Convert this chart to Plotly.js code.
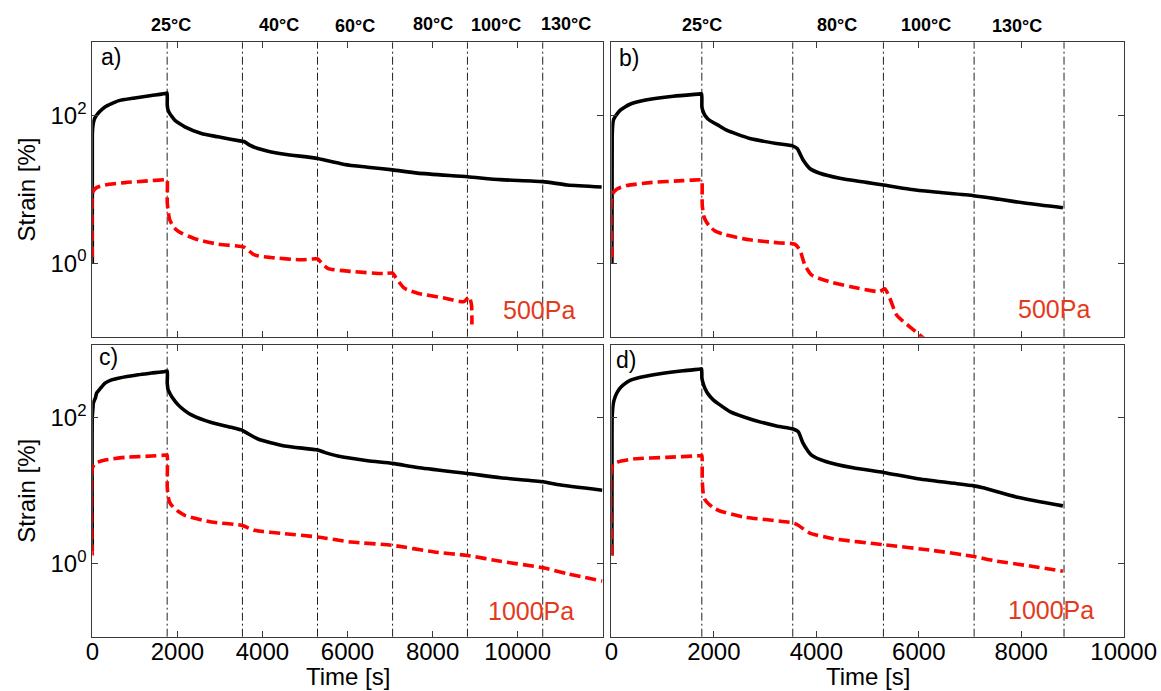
<!DOCTYPE html>
<html>
<head>
<meta charset="utf-8">
<script src="https://cdn.plot.ly/plotly-3.0.1.min.js"></script>
<style>
  html, body { margin: 0; padding: 0; background: #ffffff; }
  #chart { width: 1161px; height: 691px; }
</style>
</head>
<body>
<div id="chart"></div>
<script>
// ---- Strain [%] vs time [s] under stepped temperature (creep then recovery) ----

// Panel a) 500 Pa, six temperature steps
const timeA_black = [0, 0, 8, 23, 47, 100, 180, 297, 454, 610, 1000, 1390, 1745, 1760, 1762, 1783, 1822, 1877, 1940, 2057, 2175, 2565, 2955, 3500, 3580, 3700, 3895, 4130, 4520, 5295, 5460, 5930, 6475, 7060, 7650, 8820, 9600, 10590, 11170, 11975];
const strainA_black = [1.0, 54.7, 67.3, 79, 90.1, 102, 115.7, 132.4, 146.9, 160, 175, 189, 203, 205, 140, 119, 107.5, 96.9, 87.3, 78, 71, 57.6, 52, 45.4, 44.5, 40, 36.1, 33.2, 30.2, 26.4, 25.1, 21.9, 20.1, 18.5, 16.7, 14.9, 13.6, 12.8, 11.5, 10.8];
const timeA_red = [0, 0, 23, 100, 300, 770, 1235, 1745, 1760, 1762, 1785, 1822, 1880, 1978, 2095, 2490, 2955, 3500, 3580, 3815, 4205, 4910, 5300, 5340, 5535, 6085, 6865, 7060, 7140, 7335, 7650, 8275, 8740, 8860, 8915, 8925];
const strainA_red = [1.2, 8.4, 9.5, 10.6, 11.5, 12.4, 13.0, 13.6, 13.6, 6.8, 5.0, 3.86, 3.3, 2.82, 2.55, 2.07, 1.81, 1.68, 1.63, 1.29, 1.19, 1.11, 1.14, 1.08, 0.85, 0.77, 0.72, 0.73, 0.63, 0.457, 0.39, 0.335, 0.30, 0.35, 0.27, 0.146];

// Panel b) 500 Pa, four temperature steps
const timeB_black = [10, 15, 25, 38, 70, 116, 168, 265, 363, 558, 753, 1208, 1728, 1760, 1767, 1793, 1825, 1890, 1988, 2118, 2248, 2703, 3223, 3535, 3626, 3743, 3873, 4068, 4458, 4978, 5310, 5823, 6278, 7078, 7578, 8098, 8813];
const strainB_black = [1.0, 50, 74.8, 87.3, 97, 107.6, 119, 132.4, 144, 158, 168, 185, 199, 200, 132, 113, 102, 90, 81.2, 72.4, 64, 49.3, 42.2, 39.2, 36, 25.1, 19.3, 16.6, 14.2, 12.5, 11.5, 10.1, 9.3, 8.24, 7.35, 6.5, 5.66];
const timeB_red = [10, 10, 103, 298, 753, 1403, 1760, 1767, 1773, 1806, 1858, 1923, 2020, 2183, 2703, 3288, 3580, 3678, 3775, 3905, 4198, 4653, 5238, 5335, 5433, 5563, 5693, 5855, 6050, 6250];
const strainB_red = [1.19, 8.4, 10.1, 11.3, 12.4, 13.2, 13.6, 13.6, 6.2, 4.28, 3.59, 3.13, 2.74, 2.47, 2.07, 1.88, 1.81, 1.51, 0.95, 0.69, 0.575, 0.48, 0.41, 0.448, 0.335, 0.199, 0.162, 0.131, 0.101, 0.08];

// Panel c) 1000 Pa, six temperature steps
const timeC_black = [0, 0, 15, 23, 78, 100, 195, 300, 454, 610, 1080, 1390, 1705, 1760, 1762, 1783, 1822, 1877, 2018, 2174, 2330, 2800, 3270, 3505, 3620, 3895, 4520, 5300, 5460, 5770, 6475, 7060, 7650, 8820, 9600, 10600, 10930, 11990];
const strainC_black = [1.5, 104, 136, 159, 192, 218, 256, 300, 333, 351, 391, 412, 434, 440, 300, 243, 218, 192, 151, 126, 110, 86.3, 74.4, 68.4, 62.9, 51.4, 41.2, 36.3, 33.7, 30, 25.9, 23.8, 20.9, 17.3, 15.1, 13.3, 12.2, 10.2];
const timeC_red = [0, 0, 63, 300, 770, 1390, 1745, 1760, 1762, 1785, 1822, 1900, 2018, 2175, 2800, 3505, 3815, 4520, 5300, 6085, 7060, 8040, 8820, 9600, 10600, 11170, 11990];
const strainC_red = [1.3, 20.3, 23.8, 26.4, 28.8, 30, 31, 31, 11.3, 8.26, 6.9, 6.02, 5.25, 4.62, 3.74, 3.37, 2.88, 2.59, 2.33, 1.99, 1.79, 1.45, 1.3, 1.08, 0.88, 0.73, 0.58];

// Panel d) 1000 Pa, four temperature steps
const timeD_black = [10, 12, 15, 38, 70, 103, 168, 233, 363, 493, 948, 1403, 1741, 1760, 1767, 1793, 1825, 1890, 1988, 2118, 2313, 2768, 3223, 3548, 3646, 3743, 3905, 4198, 4718, 5310, 5953, 6603, 7078, 7253, 7903, 8813];
const strainD_black = [1.3, 60, 104, 159, 192, 218, 256, 284, 327, 351, 403, 444, 468, 470, 351, 294, 256, 212, 177, 151, 122, 93.8, 77.6, 70.6, 64.9, 44.8, 31, 25.1, 20.7, 17.9, 14.8, 12.9, 11.7, 11, 8.26, 6.22];
const timeD_red = [10, 12, 103, 428, 1078, 1728, 1760, 1767, 1773, 1793, 1825, 1890, 1988, 2118, 2573, 3548, 3646, 3873, 4328, 5310, 6278, 7078, 7448, 8228, 8813];
const strainD_red = [1.3, 21.4, 24.5, 27.3, 28.8, 30.3, 30.5, 30.5, 14, 9.2, 7.6, 6.7, 5.9, 5.3, 4.39, 3.63, 3.37, 2.64, 2.21, 1.83, 1.52, 1.26, 1.11, 0.92, 0.79];

// Temperature step boundaries [s] and labels
const stepsLeft = [1760, 3530, 5295, 7060, 8820, 10590];
const stepsRight = [1765, 3540, 5310, 7080, 8835];
const tempLabelsLeft = ['25°C', '40°C', '60°C', '80°C', '100°C', '130°C'];
const tempLabelsRight = ['25°C', '80°C', '100°C', '130°C'];
const stressLabels = ['500Pa', '500Pa', '1000Pa', '1000Pa'];
const panelLetters = ['a)', 'b)', 'c)', 'd)'];

// Axis ticks
const xTickVals = [0, 2000, 4000, 6000, 8000, 10000];
const xTickText = ['0', '2000', '4000', '6000', '8000', '10000'];
const yTickVals = [1, 100];
const yTickText = ['10<sup>0</sup>', '10<sup>2</sup>'];

// ---- layout helpers ----
const FONT = 'Arial, "Liberation Sans", Helvetica, sans-serif';
const W = 1161, H = 691;
const px2x = p => p / W;
const px2y = p => 1 - p / H;

const domXLeft = [px2x(92.3), px2x(602.7)];
const domXRight = [px2x(611.4), px2x(1123.7)];
const domYTop = [px2y(336.7), px2y(42.3)];
const domYBot = [px2y(636.7), px2y(345)];

const blackLine = { color: '#000000', width: 3.6, shape: 'spline', smoothing: 0.6 };
const redLine = { color: '#ff0000', width: 3.6, dash: '11px,5px', shape: 'spline', smoothing: 0.6 };

function trace(x, y, line, ax) {
  return { x: x, y: y, type: 'scatter', mode: 'lines', line: line,
           xaxis: 'x' + ax, yaxis: 'y' + ax, hoverinfo: 'skip', showlegend: false };
}

const data = [
  trace(timeA_black, strainA_black, blackLine, ''),
  trace(timeA_red, strainA_red, redLine, ''),
  trace(timeB_black, strainB_black, blackLine, '2'),
  trace(timeB_red, strainB_red, redLine, '2'),
  trace(timeC_black, strainC_black, blackLine, '3'),
  trace(timeC_red, strainC_red, redLine, '3'),
  trace(timeD_black, strainD_black, blackLine, '4'),
  trace(timeD_red, strainD_red, redLine, '4')
];

const axisCommon = {
  showline: true, mirror: 'ticks', linecolor: '#3a3a3a', linewidth: 1,
  ticks: 'inside', ticklen: 6, tickcolor: '#3a3a3a', tickwidth: 1,
  showgrid: false, zeroline: false, automargin: false,
  tickfont: { family: FONT, size: 24, color: '#000000' }
};

function xAxis(domain, range, anchor, labels) {
  return Object.assign({}, axisCommon, {
    domain: domain, range: range, anchor: anchor,
    tickmode: 'array', tickvals: xTickVals, ticktext: xTickText,
    showticklabels: labels, ticklabelstandoff: -7
  });
}
function yAxis(domain, anchor, labels, title) {
  const a = Object.assign({}, axisCommon, {
    domain: domain, anchor: anchor, type: 'log', range: [-1, 3],
    tickmode: 'array', tickvals: yTickVals, ticktext: yTickText, showticklabels: labels
  });
  if (title) a.title = { text: title, font: { family: FONT, size: 24, color: '#000' }, standoff: 8 };
  return a;
}

// Dash-dot markers at temperature changes
const shapes = [];
function addSteps(steps, xref, yref) {
  steps.forEach(t => shapes.push({
    type: 'line', xref: xref, yref: yref + ' domain', x0: t, x1: t, y0: 0, y1: 1,
    layer: 'below', line: { color: '#222222', width: 1, dash: '8px,3px,2px,3px' }
  }));
}
addSteps(stepsLeft, 'x', 'y');
addSteps(stepsLeft, 'x3', 'y3');
addSteps(stepsRight, 'x2', 'y2');
addSteps(stepsRight, 'x4', 'y4');

const annotations = [];
// temperature labels above the top panels
const tempPosLeft = [1846, 4387, 6170, 8000, 9500, 11140];
const tempYLeft = [25, 25, 26.5, 23.5, 25, 24.5];
const tempPosRight = [1767, 4407, 6141, 7909];
const tempYRight = [25, 25, 25, 26];
tempLabelsLeft.forEach((s, i) => annotations.push({
  text: '<b>' + s + '</b>', xref: 'x', yref: 'paper', x: tempPosLeft[i], y: px2y(tempYLeft[i]),
  xanchor: 'center', yanchor: 'middle', showarrow: false,
  font: { family: FONT, size: 18, color: '#000' }
}));
tempLabelsRight.forEach((s, i) => annotations.push({
  text: '<b>' + s + '</b>', xref: 'x2', yref: 'paper', x: tempPosRight[i], y: px2y(tempYRight[i]),
  xanchor: 'center', yanchor: 'middle', showarrow: false,
  font: { family: FONT, size: 18, color: '#000' }
}));
// x-axis titles under the bottom panels
['x3', 'x4'].forEach(ax => annotations.push({
  text: 'Time [s]', xref: ax + ' domain', yref: 'paper', x: 0.5, y: px2y(676),
  xanchor: 'center', yanchor: 'middle', showarrow: false,
  font: { family: FONT, size: 24, color: '#000' }
}));
// panel letters and stress labels
const axSuffix = ['', '2', '3', '4'];
const letterPos = [[0.036, 0.950], [0.034, 0.948], [0.031, 0.959], [0.0285, 0.949]];
const stressPos = [[0.875, 0.091], [0.864, 0.094], [0.860, 0.088], [0.858, 0.091]];
panelLetters.forEach((s, i) => annotations.push({
  text: s, xref: 'x' + axSuffix[i] + ' domain', yref: 'y' + axSuffix[i] + ' domain',
  x: letterPos[i][0], y: letterPos[i][1], xanchor: 'center', yanchor: 'middle', showarrow: false,
  font: { family: FONT, size: 23, color: '#000' }
}));
stressLabels.forEach((s, i) => annotations.push({
  text: s, xref: 'x' + axSuffix[i] + ' domain', yref: 'y' + axSuffix[i] + ' domain',
  x: stressPos[i][0], y: stressPos[i][1], xanchor: 'center', yanchor: 'middle', showarrow: false,
  font: { family: FONT, size: 25, color: '#e43a1c' }
}));

const layout = {
  width: W, height: H,
  margin: { l: 0, r: 0, t: 0, b: 0 },
  paper_bgcolor: '#ffffff', plot_bgcolor: '#ffffff',
  showlegend: false,
  xaxis: xAxis(domXLeft, [0, 12000], 'y', false),
  yaxis: yAxis(domYTop, 'x', true, 'Strain [%]'),
  xaxis2: xAxis(domXRight, [0, 10000], 'y2', false),
  yaxis2: yAxis(domYTop, 'x2', false),
  xaxis3: xAxis(domXLeft, [0, 12000], 'y3', true),
  yaxis3: yAxis(domYBot, 'x3', true, 'Strain [%]'),
  xaxis4: xAxis(domXRight, [0, 10000], 'y4', true),
  yaxis4: yAxis(domYBot, 'x4', false),
  shapes: shapes,
  annotations: annotations
};

Plotly.newPlot('chart', data, layout, { displayModeBar: false, staticPlot: true });
</script>
</body>
</html>
